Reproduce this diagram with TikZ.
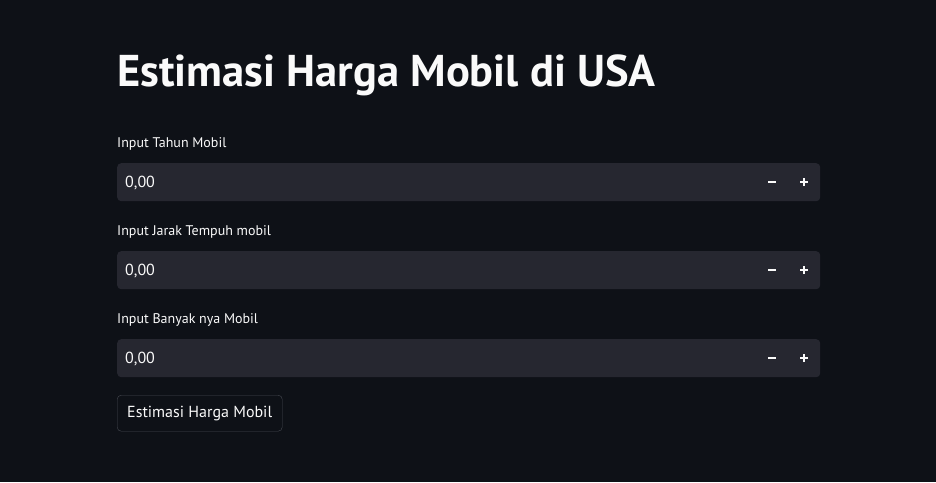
\documentclass[tikz,border=0pt]{standalone}
\usepackage{fontspec}
\setmainfont{PT Sans}
\usepackage{tikz}
\definecolor{pagebg}{HTML}{0E1117}
\definecolor{fieldbg}{HTML}{262730}
\definecolor{txt}{HTML}{FAFAFA}
\definecolor{btnline}{HTML}{464950}
\tikzset{
  field/.style={fill=fieldbg, rounded corners=4pt, anchor=north west, minimum width=703pt, minimum height=38pt, inner sep=0pt},
  caption/.style={anchor=west, inner sep=0pt, text=txt, font=\fontsize{14}{16}\selectfont},
  value/.style={anchor=west, inner sep=0pt, text=txt, font=\fontsize{16}{18}\selectfont},
  icon/.style={draw=txt, line width=2pt}
}
\begin{document}
\begin{tikzpicture}[x=1pt, y=-1pt]
  \fill[pagebg] (0,0) rectangle (936,482);
  \useasboundingbox (0,0) rectangle (936,482);
  \node[name=title, anchor=base west, inner sep=0pt, text=txt, font=\fontsize{44.5}{48}\selectfont\bfseries] at (117,86) {Estimasi Harga Mobil di USA};
  \foreach \i/\lab/\yy in {1/Input Tahun Mobil/142, 2/Input Jarak Tempuh mobil/230, 3/Input Banyak nya Mobil/318}{
    \node[name=lab\i, caption] at (117,\yy+2) {\lab};
    \node[name=box\i, field] at (117,\yy+21) {};
    \node[name=val\i, value] at ([xshift=8pt,yshift=-1pt]box\i.west) {0,00};
    \draw[icon] ([xshift=-52pt]box\i.east) -- ([xshift=-44pt]box\i.east);
    \draw[icon] ([xshift=-20pt]box\i.east) -- ([xshift=-12pt]box\i.east);
    \draw[icon] ([xshift=-16pt,yshift=-4pt]box\i.east) -- ([xshift=-16pt,yshift=4pt]box\i.east);
  }
  \node[name=btn, draw=btnline, rounded corners=4pt, anchor=north west, minimum width=165pt, minimum height=36pt, text=txt, font=\fontsize{16}{18}\selectfont] at (117,395) {Estimasi Harga Mobil};
\end{tikzpicture}
\end{document}
